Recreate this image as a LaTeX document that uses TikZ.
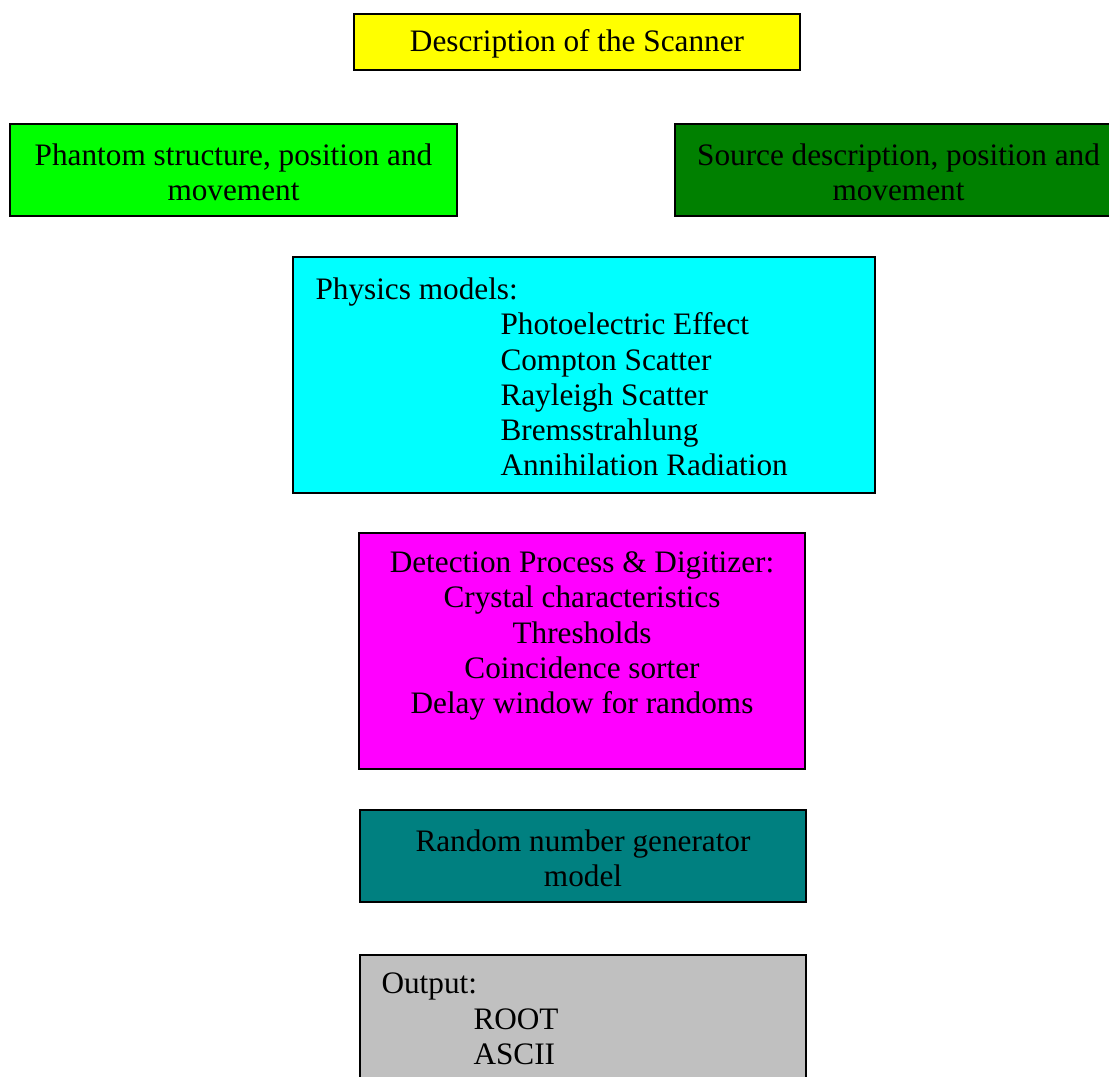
\documentclass[tikz,border=0pt]{standalone}
\usepackage{fontspec}
\setmainfont{Liberation Serif}
\usetikzlibrary{positioning}

\begin{document}
\begin{tikzpicture}[x=0.4pt,y=-0.4pt]
	\fontsize{12.5}{14.1}\selectfont
	% rows (pixel units, y grows downwards)
	\def \scannerrow{42}
	\def \objectrow{170}
	\def \physicsrow{375}
	\def \detectrow{651}
	\def \randomrow{856}
	\def \outputrow{1025}

	\tikzstyle{box}=[draw=black,line width=0.8pt,inner sep=0pt,align=center]
	\tikzstyle{wide-box}=[box,minimum width=178.6pt,minimum height=36.8pt]
	\tikzstyle{tall-box}=[box,minimum width=178.4pt,minimum height=94.4pt]
	\tikzstyle{ltext}=[inner sep=0pt,align=left,anchor=west]
	\tikzstyle{ctext}=[inner sep=0pt,align=center]

	\useasboundingbox (0,0) rectangle (1109,1077);
	\clip (0,0) rectangle (1109,1077);

	% top row
	\node[box,fill={rgb,255:red,255;green,255;blue,0},minimum width=178.4pt,minimum height=22.4pt]
		(scanner) at (577,\scannerrow) {};
	\node[ctext] (scanner-text) at (577,\scannerrow+2) {Description of the Scanner};

	\node[wide-box,fill={rgb,255:red,0;green,255;blue,0}]
		(phantom) at (233.5,\objectrow) {};
	\node[ctext] (phantom-text) at (233.5,\objectrow+2) {Phantom structure, position and\\movement};
	\node[wide-box,fill={rgb,255:red,0;green,128;blue,0}]
		(source) at (898.5,\objectrow) {};
	\node[ctext] (source-text) at (898.5,\objectrow+2) {Source description, position and\\movement};

	% physics
	\node[tall-box,fill={rgb,255:red,0;green,255;blue,255},minimum width=232.8pt]
		(physics) at (584,\physicsrow) {};
	\node[ltext] (physics-text) at (315,\physicsrow+2) {Physics models:\\
		\hspace*{74pt}Photoelectric Effect\\
		\hspace*{74pt}Compton Scatter\\
		\hspace*{74pt}Rayleigh Scatter\\
		\hspace*{74pt}Bremsstrahlung\\
		\hspace*{74pt}Annihilation Radiation};

	% detection
	\node[tall-box,fill={rgb,255:red,255;green,0;blue,255}]
		(detect) at (582,\detectrow) {};
	\node[ctext] (detect-text) at (582,636) {Detection Process \& Digitizer:\\
		Crystal characteristics\\Thresholds\\Coincidence sorter\\Delay window for randoms};

	% random numbers
	\node[wide-box,fill={rgb,255:red,0;green,128;blue,128},minimum width=178.4pt]
		(random) at (583,\randomrow) {};
	\node[ctext] (random-text) at (583,\randomrow+2) {Random number generator\\model};

	% output
	\node[box,fill={rgb,255:red,192;green,192;blue,192},minimum width=178.4pt,minimum height=56pt]
		(output) at (583,\outputrow) {};
	\node[ltext] (output-text) at (381,1019) {Output:\\
		\hspace*{36.8pt}ROOT\\
		\hspace*{36.8pt}ASCII};
\end{tikzpicture}
\end{document}
